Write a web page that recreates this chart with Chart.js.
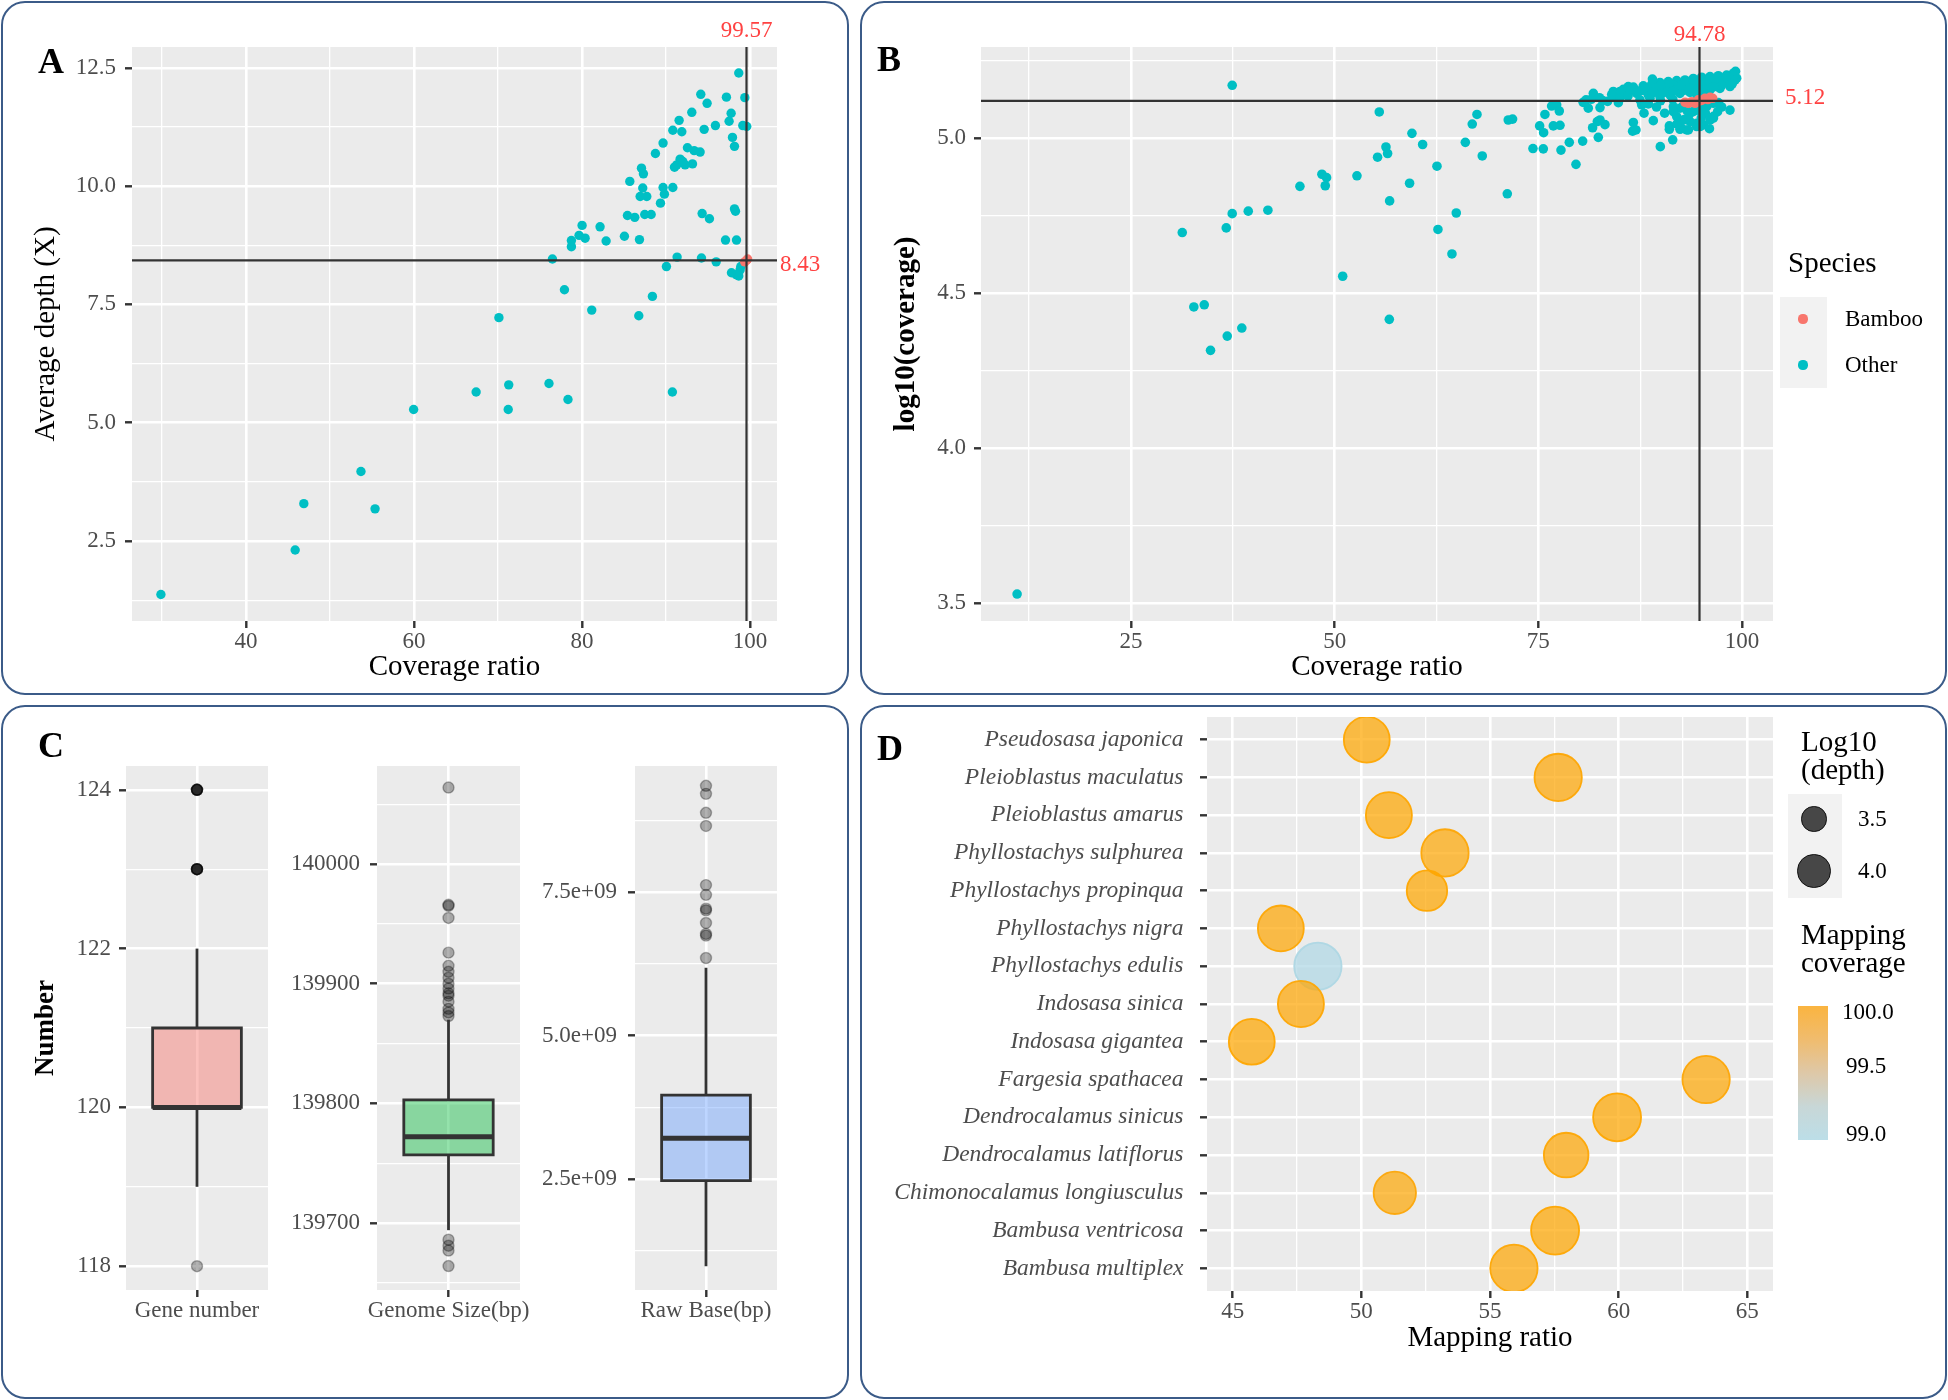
<!DOCTYPE html>
<html>
<head>
<meta charset="utf-8">
<title>Chloroplast mapping summary</title>
<script src="https://cdn.jsdelivr.net/npm/chart.js@4.4.1/dist/chart.umd.min.js"></script>
<style>
  html, body { margin: 0; padding: 0; background: #fff; }
  body { position: relative; width: 1948px; height: 1400px; overflow: hidden; font-family: "Liberation Serif", serif; }
  .panel { position: absolute; box-sizing: border-box; border: 2.6px solid #3b5b88; border-radius: 24px; }
  canvas { position: absolute; }
  .txt { position: absolute; white-space: nowrap; line-height: 1; color: #000; }
  .letter { font-weight: bold; font-size: 36px; }
  .lg-title { font-size: 29px; }
  .lg-label { font-size: 23px; }
  .key { position: absolute; background: #f2f2f2; }
  .dot { position: absolute; border-radius: 50%; box-sizing: border-box; }
</style>
</head>
<body>
<div class="panel" style="left:1px;top:1px;width:848px;height:694px"></div>
<div class="panel" style="left:860px;top:1px;width:1087px;height:694px"></div>
<div class="panel" style="left:1px;top:705px;width:848px;height:694px"></div>
<div class="panel" style="left:860px;top:705px;width:1087px;height:694px"></div>

<canvas id="chartA" width="830" height="680" style="left:10px;top:10px"></canvas>
<canvas id="chartB" width="1075" height="680" style="left:870px;top:10px"></canvas>
<canvas id="chartC1" width="295" height="610" style="left:10px;top:720px"></canvas>
<canvas id="chartC2" width="300" height="610" style="left:260px;top:720px"></canvas>
<canvas id="chartC3" width="300" height="610" style="left:520px;top:720px"></canvas>
<canvas id="chartD" width="1075" height="695" style="left:870px;top:677px"></canvas>

<div class="txt letter" style="left:38px;top:43px">A</div>
<div class="txt letter" style="left:877px;top:41px">B</div>
<div class="txt letter" style="left:38px;top:727px">C</div>
<div class="txt letter" style="left:877px;top:730px">D</div>

<!-- legend for panel B -->
<div class="txt lg-title" style="left:1788px;top:248px">Species</div>
<div class="key" style="left:1780px;top:297px;width:47px;height:91px"></div>
<div class="dot" style="left:1798.4px;top:314.4px;width:9.2px;height:9.2px;background:#F8766D"></div>
<div class="dot" style="left:1798.4px;top:360.4px;width:9.2px;height:9.2px;background:#00BFC4"></div>
<div class="txt lg-label" style="left:1845px;top:307px">Bamboo</div>
<div class="txt lg-label" style="left:1845px;top:353px">Other</div>

<!-- legends for panel D -->
<div class="txt lg-title" style="left:1801px;top:727px">Log10</div>
<div class="txt lg-title" style="left:1801px;top:755px">(depth)</div>
<div class="key" style="left:1788px;top:794px;width:54px;height:104px"></div>
<div class="dot" style="left:1801.3px;top:806.3px;width:25.4px;height:25.4px;background:#474747;border:1.6px solid #111"></div>
<div class="dot" style="left:1797.3px;top:854.3px;width:33.4px;height:33.4px;background:#474747;border:1.6px solid #111"></div>
<div class="txt lg-label" style="left:1858px;top:807px">3.5</div>
<div class="txt lg-label" style="left:1858px;top:859px">4.0</div>
<div class="txt lg-title" style="left:1801px;top:920px">Mapping</div>
<div class="txt lg-title" style="left:1801px;top:948px">coverage</div>
<div style="position:absolute;left:1798px;top:1006px;width:30px;height:134px;background:linear-gradient(to bottom, rgb(250,180,64) 0%, rgb(240,188,110) 25%, rgb(222,200,168) 50%, rgb(200,215,215) 75%, rgb(188,222,232) 100%)"></div>
<div class="txt lg-label" style="left:1842px;top:1000px">100.0</div>
<div class="txt lg-label" style="left:1846px;top:1054px">99.5</div>
<div class="txt lg-label" style="left:1846px;top:1122px">99.0</div>

<script>
// ---- Panel A: coverage ratio vs average depth ----
const aOtherRatio = [98.65, 94.13, 97.18, 99.37, 94.88, 93.06, 97.74, 91.55, 97.5, 95.87, 94.53, 99.13, 99.6, 90.8, 91.87, 97.9, 98.14, 89.64, 88.73, 92.54,
  93.34, 94.05, 91.67, 91.27, 92.26, 93.14, 91.0, 91.99, 87.07, 87.3, 85.68, 87.22, 89.64, 90.8, 86.91, 87.7, 89.8, 89.33, 85.4, 86.27,
  87.46, 88.22, 94.29, 95.16, 98.14, 98.26, 80.0, 82.14, 79.64, 80.36, 78.73, 78.73, 82.86, 85.04, 86.83, 97.07, 98.38, 76.47, 91.31, 94.21,
  95.96, 90.04, 97.78, 98.33, 98.81, 98.65, 98.89, 77.9, 88.37, 81.15, 86.75, 70.1, 29.87, 45.85, 46.88, 53.68, 55.36, 59.95, 67.39, 71.27,
  71.21, 76.06, 78.32, 90.75];
const aOtherDepth = [12.39, 11.94, 11.88, 11.87, 11.75, 11.56, 11.54, 11.39, 11.37, 11.28, 11.20, 11.28, 11.26, 11.18, 11.15, 11.03, 10.84, 10.91, 10.69, 10.81,
  10.75, 10.72, 10.57, 10.45, 10.45, 10.47, 10.40, 10.52, 10.38, 10.26, 10.10, 9.96, 9.97, 9.97, 9.78, 9.78, 9.83, 9.64, 9.38, 9.34,
  9.40, 9.40, 9.42, 9.31, 9.52, 9.47, 9.17, 9.14, 8.96, 8.90, 8.85, 8.72, 8.84, 8.94, 8.87, 8.86, 8.86, 8.46, 8.50, 8.48,
  8.40, 8.30, 8.17, 8.13, 8.23, 8.10, 8.30, 7.81, 7.67, 7.38, 7.26, 7.22, 1.37, 2.31, 3.29, 3.97, 3.18, 5.28, 5.65, 5.80,
  5.28, 5.83, 5.49, 5.65];
const aBambooRatio = [99.57, 99.35, 99.7];
const aBambooDepth = [8.43, 8.40, 8.46];
const aRefRatio = 99.57, aRefDepth = 8.43;
const aXLim = [26.43, 103.2], aYLim = [0.81, 12.94];
const aXTicks = [40, 60, 80, 100], aXMinor = [30, 50, 70, 90];
const aYTicks = [2.5, 5, 7.5, 10, 12.5], aYMinor = [1.25, 3.75, 6.25, 8.75, 11.25];

// ---- Panel B: coverage ratio vs log10(coverage) ----
const bOtherRatio = [11.03, 32.72, 34.0, 34.77, 36.82, 38.61, 50.99, 56.71, 64.4, 31.3, 36.7, 37.43, 39.4, 41.81, 37.43, 45.74, 48.44, 49.01, 48.85, 52.74,
  55.48, 55.27, 56.3, 56.5, 56.75, 59.2, 59.49, 60.8, 62.56, 62.68, 64.93, 66.04, 66.89, 67.47, 68.12, 71.19, 71.31, 71.84,
  75.16, 75.65, 75.81, 76.84, 77.66, 76.63, 77.25, 77.57, 74.34, 75.61, 77.78, 78.8, 80.44, 79.62, 82.36, 81.66, 82.57, 83.18, 82.24, 80.85,
  81.75, 81.13, 82.57, 82.89, 84.41, 85.02, 86.04, 84.82, 86.66, 86.98, 86.57, 87.68, 87.97, 89.11, 89.97, 91.08, 91.08, 91.49, 92.38, 93.2,
  94.84, 97.09, 98.52, 96.48,
  84.20, 85.43, 86.66, 87.88, 88.91, 89.93, 90.95, 91.98, 93.0, 94.02, 95.04, 96.07, 97.09, 98.11, 98.93, 99.34,
  84.61, 85.84, 87.07, 88.29, 89.52, 90.75, 91.98, 93.2, 94.43, 95.66, 96.89, 98.11, 99.14,
  87.47, 88.70, 89.93, 91.16, 92.38, 93.61, 94.84, 96.07, 97.29, 98.52,
  91.57, 92.38, 93.2, 94.02, 94.84, 95.66, 96.48, 91.98, 92.79, 93.61, 94.43, 95.25, 96.07, 92.59, 93.41, 94.43, 91.57,
  94.84, 96.48, 93.2, 91.57, 89.11, 86.25, 85.02, 95.66, 97.7, 98.52, 97.29, 95.25, 94.02, 92.79, 90.34, 88.5,
  80.5, 81.5, 82.5, 83.5, 84.0, 85.0, 86.0, 86.5, 87.5, 88.0, 89.0, 89.5, 90.5, 91.0, 92.0, 93.0, 94.0, 95.0, 96.0, 97.0,
  98.0, 99.0, 98.5, 97.5, 96.5, 95.5, 94.5, 93.5, 92.5, 91.5, 90.0, 89.0, 95.5, 96.5, 97.5, 93.0, 92.0, 90.5, 89.5, 96.0,
  88.5, 90.0, 91.5, 93.5, 95.0, 97.0, 98.8, 99.2, 92.8, 94.6];
const bOtherLogCov = [3.529, 4.455, 4.462, 4.315, 4.361, 4.387, 4.554, 4.415, 4.626, 4.695, 4.71, 4.756, 4.764, 4.767, 5.17, 4.844, 4.883, 4.872, 4.846, 4.878,
  5.084, 4.938, 4.971, 4.95, 4.797, 4.854, 5.015, 4.979, 4.909, 4.705, 4.758, 4.986, 5.045, 5.076, 4.942, 4.82, 5.058, 5.061,
  5.039, 5.017, 5.076, 5.039, 5.041, 5.103, 5.107, 5.087, 4.966, 4.965, 4.961, 4.986, 4.99, 4.915, 5.002, 5.033, 5.058, 5.043, 5.053, 5.123,
  5.144, 5.096, 5.098, 5.121, 5.133, 5.15, 5.166, 5.114, 5.05, 5.026, 5.022, 5.107, 5.08, 5.056, 4.972, 5.039, 5.028, 4.994, 5.028, 5.026,
  5.037, 5.114, 5.090, 5.064,
  5.150, 5.157, 5.164, 5.168, 5.173, 5.179, 5.182, 5.185, 5.187, 5.192, 5.196, 5.198, 5.201, 5.203, 5.209, 5.193,
  5.133, 5.139, 5.144, 5.150, 5.155, 5.160, 5.166, 5.168, 5.172, 5.176, 5.180, 5.183, 5.187,
  5.123, 5.128, 5.133, 5.139, 5.144, 5.147, 5.150, 5.155, 5.160, 5.166,
  5.101, 5.096, 5.090, 5.085, 5.096, 5.101, 5.112, 5.069, 5.058, 5.053, 5.047, 5.042, 5.058, 5.031, 5.026, 5.037, 5.085,
  5.176, 5.187, 5.182, 5.171, 5.164, 5.150, 5.144, 5.189, 5.193, 5.198, 5.176, 5.160, 5.157, 5.153, 5.146, 5.139,
  5.115, 5.125, 5.13, 5.118, 5.14, 5.128, 5.135, 5.158, 5.152, 5.16, 5.145, 5.168, 5.15, 5.176, 5.157, 5.175, 5.18, 5.185, 5.19, 5.19,
  5.19, 5.20, 5.175, 5.17, 5.165, 5.14, 5.135, 5.16, 5.17, 5.15, 5.17, 5.19, 5.08, 5.07, 5.10, 5.06, 5.045, 5.08, 5.10, 5.03,
  5.11, 5.12, 5.125, 5.075, 5.065, 5.085, 5.175, 5.215, 5.105, 5.09];
const bBambooRatio = [93.0, 93.82, 94.64, 95.45, 96.07, 94.23, 95.04, 93.41, 94.78, 95.8, 96.4];
const bBambooLogCov = [5.115, 5.117, 5.123, 5.128, 5.131, 5.112, 5.121, 5.112, 5.12, 5.124, 5.128];
const bRefRatio = 94.78, bRefLogCov = 5.12;
const bXLim = [6.6, 103.8], bYLim = [3.442, 5.2935];
const bXTicks = [25, 50, 75, 100], bXMinor = [12.5, 37.5, 62.5, 87.5];
const bYTicks = [3.5, 4.0, 4.5, 5.0], bYMinor = [3.75, 4.25, 4.75, 5.25];

// ---- Panel C: box plots (whisker low, Q1, median, Q3, whisker high) ----
const cLabels = ['Gene number', 'Genome Size(bp)', 'Raw Base(bp)'];
const geneStats = [119, 120, 120, 121, 122];
const geneOutliers = [118, 123, 123, 123, 123, 123, 124, 124, 124, 124, 124];
const genomeStats = [139694, 139757, 139772, 139803, 139870];
const genomeOutliers = [140064, 139966, 139965, 139955, 139926, 139915, 139910, 139905, 139900, 139896, 139892, 139890, 139885,
  139879, 139876, 139873, 139686, 139681, 139677, 139664];
const rawStats = [0.98e9, 2.47e9, 3.21e9, 3.96e9, 6.18e9];
const rawOutliers = [9.35e9, 9.21e9, 8.88e9, 8.65e9, 7.62e9, 7.45e9, 7.21e9, 7.18e9, 6.96e9, 6.77e9, 6.74e9, 6.35e9];
const geneTicks = [118, 120, 122, 124], geneMinor = [119, 121, 123];
const genomeTicks = [139700, 139800, 139900, 140000], genomeMinor = [139650, 139750, 139850, 139950, 140050];
const rawTicks = [2.5e9, 5e9, 7.5e9], rawMinor = [1.25e9, 3.75e9, 6.25e9, 8.75e9];
const rawTickLabels = ['2.5e+09', '5.0e+09', '7.5e+09'];

// ---- Panel D: mapping ratio per species ----
const dSpecies = ['Pseudosasa japonica', 'Pleioblastus maculatus', 'Pleioblastus amarus', 'Phyllostachys sulphurea',
  'Phyllostachys propinqua', 'Phyllostachys nigra', 'Phyllostachys edulis', 'Indosasa sinica', 'Indosasa gigantea',
  'Fargesia spathacea', 'Dendrocalamus sinicus', 'Dendrocalamus latiflorus', 'Chimonocalamus longiusculus',
  'Bambusa ventricosa', 'Bambusa multiplex'];
const dRatio = [50.21, 57.65, 51.07, 53.25, 52.55, 46.87, 48.31, 47.65, 45.74, 63.40, 59.94, 57.96, 51.3, 57.53, 55.93];
const dLogDepth = [3.97, 4.06, 3.98, 4.06, 3.63, 3.97, 4.06, 3.98, 3.97, 4.06, 4.10, 3.89, 3.75, 4.10, 4.06];
const dCoverage = [99.99, 99.98, 99.99, 99.97, 99.99, 99.98, 99.01, 99.98, 99.99, 99.97, 99.99, 99.98, 99.96, 99.99, 99.98];
const dXTicks = [45, 50, 55, 60, 65], dXMinor = [47.5, 52.5, 57.5, 62.5];

Chart.defaults.font.family = '"Liberation Serif", serif';
Chart.defaults.color = '#4d4d4d';
Chart.defaults.animation = false;
Chart.defaults.responsive = false;
Chart.defaults.events = [];
Chart.defaults.plugins.legend.display = false;
Chart.defaults.plugins.tooltip.enabled = false;

// grey ggplot panel behind the grid
Chart.register({
  id: 'panelBg',
  beforeDraw(chart) {
    const a = chart.chartArea, c = chart.ctx;
    c.save();
    c.fillStyle = '#ebebeb';
    c.fillRect(a.left, a.top, a.right - a.left, a.bottom - a.top);
    c.restore();
  }
});

function refLabels(xv, yv, above, right, dy) {
  return {
    id: 'refLabels',
    afterDraw(chart) {
      const { ctx, chartArea: a, scales: { x, y } } = chart;
      ctx.save();
      ctx.fillStyle = '#ff4242';
      ctx.font = '23px "Liberation Serif"';
      ctx.textBaseline = 'middle';
      ctx.textAlign = 'center';
      ctx.fillText(String(xv), x.getPixelForValue(xv), a.top - above);
      ctx.textAlign = 'left';
      ctx.fillText(String(yv), a.right + right, y.getPixelForValue(yv) + dy);
      ctx.restore();
    }
  };
}

function linAxis(o) {
  const all = o.major.concat(o.minor || []);
  const isMajor = c => c.tick && o.major.indexOf(c.tick.value) >= 0;
  return {
    type: 'linear', min: o.min, max: o.max, bounds: 'data', reverse: !!o.reverse,
    afterBuildTicks: s => { s.ticks = all.map(v => ({ value: v })); },
    afterFit: s => { if (s.isHorizontal()) s.height = o.size; else s.width = o.size; },
    ticks: {
      autoSkip: false, maxRotation: 0, minRotation: 0, padding: o.pad, color: '#4d4d4d',
      font: { size: o.fsize || 23, style: o.italic ? 'italic' : 'normal' },
      callback: v => { const i = o.major.indexOf(v); return i < 0 ? '' : o.labels[i]; }
    },
    grid: {
      color: '#ffffff', lineWidth: c => isMajor(c) ? 2.6 : 1.3,
      tickLength: 7, tickWidth: 2.4, tickColor: c => isMajor(c) ? '#333333' : 'rgba(0,0,0,0)'
    },
    border: { display: false },
    title: o.title ? {
      display: true, text: o.title, color: '#000',
      font: { size: o.tsize || 29, weight: o.bold ? 'bold' : 'normal' }, padding: o.tpad
    } : { display: false }
  };
}

const pts = (xs, ys) => xs.map((x, i) => ({ x, y: ys[i] }));
function dots(data, color, r) {
  return { type: 'scatter', data, backgroundColor: color, pointBackgroundColor: color, pointBorderWidth: 0, pointRadius: r };
}
function seg(data, color, width, extra) {
  return Object.assign({ type: 'line', data, borderColor: color, borderWidth: width, pointRadius: 0, fill: false, tension: 0 }, extra || {});
}

// Panel A
new Chart(document.getElementById('chartA'), {
  type: 'scatter',
  data: { datasets: [
    seg([{ x: aRefRatio, y: aYLim[0] }, { x: aRefRatio, y: aYLim[1] }], '#333333', 2.2),
    seg([{ x: aXLim[0], y: aRefDepth }, { x: aXLim[1], y: aRefDepth }], '#333333', 2.2),
    dots(pts(aBambooRatio, aBambooDepth), '#F8766D', 4.7),
    dots(pts(aOtherRatio, aOtherDepth), '#00BFC4', 4.7)
  ] },
  options: {
    layout: { padding: { top: 37, right: 63, left: 0, bottom: 0 } },
    scales: {
      x: linAxis({ min: aXLim[0], max: aXLim[1], major: aXTicks, minor: aXMinor, labels: aXTicks.map(String), size: 69, pad: 0,
        title: 'Coverage ratio', tpad: { top: 0, bottom: 5 } }),
      y: linAxis({ min: aYLim[0], max: aYLim[1], major: aYTicks, minor: aYMinor, labels: aYTicks.map(v => v.toFixed(1)), size: 122, pad: 9,
        title: 'Average depth (X)', tpad: { top: 18.6, bottom: 0 } })
    }
  },
  plugins: [refLabels(aRefRatio, aRefDepth, 16, 3, 5)]
});

// Panel B
new Chart(document.getElementById('chartB'), {
  type: 'scatter',
  data: { datasets: [
    seg([{ x: bRefRatio, y: bYLim[0] }, { x: bRefRatio, y: bYLim[1] }], '#333333', 2.2),
    seg([{ x: bXLim[0], y: bRefLogCov }, { x: bXLim[1], y: bRefLogCov }], '#333333', 2.2),
    dots(pts(bBambooRatio, bBambooLogCov), '#F8766D', 4.8),
    dots(pts(bOtherRatio, bOtherLogCov), '#00BFC4', 4.8)
  ] },
  options: {
    layout: { padding: { top: 37, right: 172, left: 0, bottom: 0 } },
    scales: {
      x: linAxis({ min: bXLim[0], max: bXLim[1], major: bXTicks, minor: bXMinor, labels: bXTicks.map(String), size: 69, pad: 0,
        title: 'Coverage ratio', tpad: { top: 0, bottom: 5 } }),
      y: linAxis({ min: bYLim[0], max: bYLim[1], major: bYTicks, minor: bYMinor, labels: bYTicks.map(v => v.toFixed(1)), size: 111, pad: 8,
        title: 'log10(coverage)', bold: true, tpad: { top: 19.6, bottom: 0 } })
    }
  },
  plugins: [refLabels(bRefRatio, bRefLogCov, 12, 12, -3)]
});

// Panel C
const boxHalf = 0.375;
function boxPlot(id, stats, outliers, fill, yLim, major, minor, labels, yWidth, yPad, rightPad, xLabel, title) {
  const [lo, q1, med, q3, hi] = stats;
  const a = 1 - boxHalf, b = 1 + boxHalf;
  new Chart(document.getElementById(id), {
    type: 'scatter',
    data: { datasets: [
      seg([{ x: a, y: med }, { x: b, y: med }], '#333333', 5),
      seg([{ x: a, y: q1 }, { x: b, y: q1 }, { x: b, y: q3 }, { x: a, y: q3 }, { x: a, y: q1 }, { x: b, y: q1 }], '#333333', 2.8,
        { borderJoinStyle: 'miter' }),
      seg([{ x: 1, y: q3 }, { x: 1, y: hi }], '#333333', 2.8),
      seg([{ x: 1, y: lo }, { x: 1, y: q1 }], '#333333', 2.8),
      seg([{ x: a, y: q3 }, { x: b, y: q3 }], 'rgba(0,0,0,0)', 0, { fill: { value: q1 }, backgroundColor: fill }),
      { type: 'scatter', data: outliers.map(v => ({ x: 1, y: v })), pointRadius: 5.5,
        pointBackgroundColor: 'rgba(0,0,0,0.3)', pointBorderColor: 'rgba(0,0,0,0.3)', pointBorderWidth: 1.4 }
    ] },
    options: {
      layout: { padding: { top: 46, right: rightPad, left: 0, bottom: 0 } },
      scales: {
        x: linAxis({ min: 0.4, max: 1.6, major: [1], minor: [], labels: [xLabel], size: 40, pad: 0 }),
        y: linAxis({ min: yLim[0], max: yLim[1], major, minor, labels, size: yWidth, pad: yPad,
          title, bold: true, tsize: 27, tpad: { top: 19.8, bottom: 0 } })
      }
    }
  });
}
boxPlot('chartC1', geneStats, geneOutliers, 'rgba(248,118,109,0.45)', [117.7, 124.3], geneTicks, geneMinor,
  geneTicks.map(String), 116, 8, 37, cLabels[0], 'Number');
boxPlot('chartC2', genomeStats, genomeOutliers, 'rgba(0,186,56,0.42)', [139644, 140082], genomeTicks, genomeMinor,
  genomeTicks.map(String), 117, 10, 40, cLabels[1], null);
boxPlot('chartC3', rawStats, rawOutliers, 'rgba(97,156,255,0.42)', [0.566e9, 9.695e9], rawTicks, rawMinor,
  rawTickLabels, 115, 11, 43, cLabels[2], null);

// Panel D
const depthRadius = d => 20 + (d - 3.6) * 8;
function coverageColor(v, alpha) {
  const t = Math.max(0, Math.min(1, v - 99));
  const r = Math.round(173 + (255 - 173) * t), g = Math.round(216 + (165 - 216) * t), b = Math.round(230 - 230 * t);
  return 'rgba(' + r + ',' + g + ',' + b + ',' + alpha + ')';
}
new Chart(document.getElementById('chartD'), {
  type: 'scatter',
  data: { datasets: [{
    data: dRatio.map((x, i) => ({ x, y: i })),
    pointRadius: c => c.dataIndex === undefined ? 0 : depthRadius(dLogDepth[c.dataIndex]),
    pointBackgroundColor: c => c.dataIndex === undefined ? 'rgba(0,0,0,0)' : coverageColor(dCoverage[c.dataIndex], 0.72),
    pointBorderColor: c => c.dataIndex === undefined ? 'rgba(0,0,0,0)' : coverageColor(dCoverage[c.dataIndex], 0.95),
    pointBorderWidth: 1.8
  }] },
  options: {
    layout: { padding: { top: 40, right: 172, left: 0, bottom: 0 } },
    scales: {
      x: linAxis({ min: 44, max: 66, major: dXTicks, minor: dXMinor, labels: dXTicks.map(String), size: 81, pad: 0,
        title: 'Mapping ratio', tpad: { top: 0, bottom: 16 } }),
      y: linAxis({ min: -0.6, max: 14.6, reverse: true, major: dSpecies.map((s, i) => i), minor: [], labels: dSpecies,
        size: 337, pad: 16.5, italic: true, fsize: 23.5 })
    }
  }
});
</script>
</body>
</html>
